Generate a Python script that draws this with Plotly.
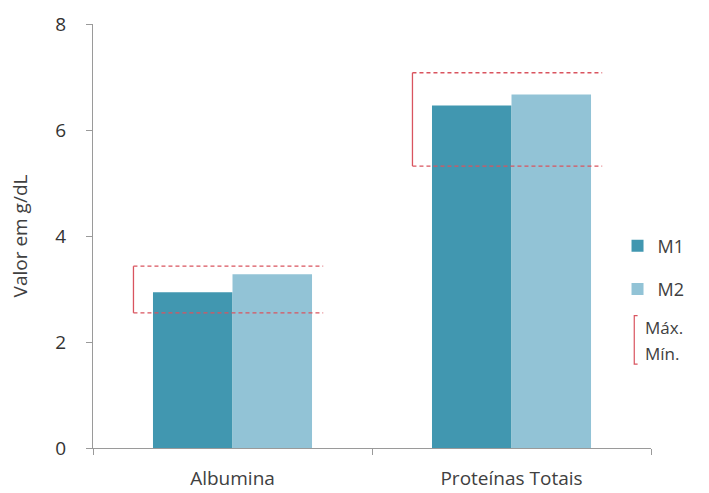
import plotly.graph_objects as go

# Serum protein results (g/dL) for two samples, with reference interval
categorias = ["Albumina", "Proteínas Totais"]
m1 = [2.94, 6.46]
m2 = [3.28, 6.67]
ref_max = [3.43, 7.08]
ref_min = [2.55, 5.32]

cor_m1 = "#4197b0"
cor_m2 = "#92c3d6"
cor_ref = "#d9545f"
fonte = "Open Sans"
texto = "#404040"
eixo = "#9a9a9a"

fig = go.Figure()
fig.add_trace(go.Bar(name="M1", x=categorias, y=m1, marker=dict(color=cor_m1, line_width=0),
                     legendgroup="a"))
fig.add_trace(go.Bar(name="M2", x=categorias, y=m2, marker=dict(color=cor_m2, line_width=0),
                     legendgroup="b"))

# Reference interval brackets: solid vertical edge, dashed max/min lines
esq, dir_ = -0.355, 0.325
for i, (hi, lo) in enumerate(zip(ref_max, ref_min)):
    fig.add_shape(type="line", xref="x", yref="y", x0=i + esq, x1=i + esq, y0=lo, y1=hi,
                  line=dict(color=cor_ref, width=1.3))
    for v in (hi, lo):
        fig.add_shape(type="line", xref="x", yref="y", x0=i + esq, x1=i + dir_, y0=v, y1=v,
                      line=dict(color=cor_ref, width=1.3, dash="4px,3px"), layer="above")

# Legend entry for the reference interval
fig.add_shape(type="path", xref="paper", yref="paper",
              path="M 0.976 0.312 L 0.970 0.312 L 0.970 0.198 L 0.976 0.198",
              line=dict(color=cor_ref, width=1.2))
for txt, yy in (("Máx.", 0.285), ("Mín.", 0.222)):
    fig.add_annotation(xref="paper", yref="paper", x=0.985, y=yy, xanchor="left",
                       yanchor="middle", showarrow=False, text=txt,
                       font=dict(family=fonte, size=17, color=texto))

fig.update_layout(
    width=709, height=493,
    margin=dict(l=93, r=58, t=24, b=45),
    paper_bgcolor="white", plot_bgcolor="white",
    barmode="group", bargap=0.43, bargroupgap=0,
    font=dict(family=fonte, size=17, color=texto),
    showlegend=True,
    legend=dict(x=0.94, y=0.52, xanchor="left", yanchor="top", traceorder="grouped",
                tracegroupgap=17, font=dict(family=fonte, size=18, color=texto),
                bgcolor="rgba(0,0,0,0)"),
    xaxis=dict(type="category", range=[-0.5, 1.5], showline=True, linecolor=eixo,
               linewidth=1, ticks="outside", tickson="boundaries", ticklen=6,
               tickcolor=eixo, showgrid=False, ticklabelstandoff=13, automargin=False,
               tickfont=dict(size=19, color=texto)),
    yaxis=dict(range=[0, 8], dtick=2, showline=True, linecolor=eixo, linewidth=1,
               ticks="outside", ticklen=6, tickcolor=eixo, showgrid=False, zeroline=False,
               ticklabelstandoff=16, automargin=False,
               tickfont=dict(size=19, color="#333333"),
               title=dict(text="Valor em g/dL", font=dict(size=19, color=texto), standoff=22)),
)

fig.write_html("out.html")
